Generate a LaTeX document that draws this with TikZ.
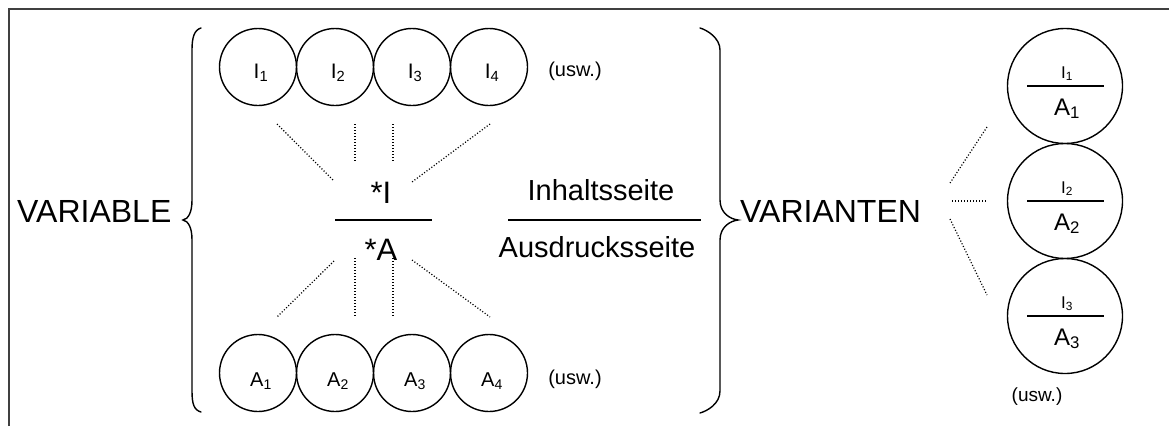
\documentclass[tikz,border=0pt]{standalone}
\usepackage{fontspec}
\setmainfont{Liberation Sans}
\newcommand\fsz[1]{\fontsize{#1}{#1}\selectfont}
\tikzset{
  ring/.style={circle, draw, line width=1.4pt, minimum size=#1, inner sep=0pt},
  dots/.style={line width=1.2pt, dash pattern=on 1.1pt off 1.9pt},
  lbl/.style={inner sep=0pt, anchor=base},
  brace/.style={line width=1.4pt, line cap=round},
}
\begin{document}
\begin{tikzpicture}[x=1pt, y=-1pt]
\useasboundingbox (0,0) rectangle (1169,426);
% frame
\draw[line width=2pt, black!75] (9,426) -- (9,9) -- (1169,9);

% left column labels
\node[lbl, anchor=base west, font=\fsz{32}] (var) at (17,222) {VARIABLE};

% left brace
\draw[brace] (201,28) .. controls (194,30) and (192,38) .. (192,50) -- (192,200)
  .. controls (192,213) and (188,219) .. (183,220)
  .. controls (188,221) and (192,227) .. (192,240) -- (192,391)
  .. controls (192,404) and (194,410) .. (201,412);

% content circles
\foreach \i/\x in {1/258,2/335,3/412,4/489}{
  \node[ring=77] (c\i) at (\x,67) {};
  \node[lbl, font=\fsz{21}] (ct\i) at (\x+3,78) {I\textsubscript{\i}};
  \node[ring=77] (e\i) at (\x,373) {};
  \node[lbl, font=\fsz{20}] (et\i) at (\x+3,386) {A\textsubscript{\i}};
}
\node[lbl, font=\fsz{20}] (uc) at (575,76) {(usw.)};
\node[lbl, font=\fsz{20}] (ue) at (575,384) {(usw.)};

% sign *I / *A
\node[lbl, font=\fsz{31}] (si) at (381,203) {*I};
\node[lbl, font=\fsz{31}] (sa) at (381,260) {*A};
\draw[line width=1.4pt] (335,220) -- (432,220);

% dotted rays
\draw[dots] (277,124) -- (334,181);
\draw[dots] (355,124) -- (355,162);
\draw[dots] (393,124) -- (393,162);
\draw[dots] (490,124) -- (412,182);
\draw[dots] (334,261) -- (277,317);
\draw[dots] (355,258) -- (355,317);
\draw[dots] (393,258) -- (393,317);
\draw[dots] (412,260) -- (490,317);

% content / expression labels
\node[lbl, font=\fsz{29}] (ins) at (601,200) {Inhaltsseite};
\node[lbl, font=\fsz{29}] (aus) at (597,257) {Ausdrucksseite};
\draw[line width=1.4pt] (508,220) -- (701,220);

% right brace
\draw[brace] (700,28) .. controls (707,30) and (720,38) .. (720,50) -- (720,200)
  .. controls (720,213) and (730,219) .. (738,220)
  .. controls (730,221) and (720,227) .. (720,240) -- (720,391)
  .. controls (720,404) and (707,411) .. (700,413);

\node[lbl, anchor=base west, font=\fsz{32}] (vnt) at (740,222) {VARIANTEN};

% dotted rays to the variants
\draw[dots] (950,183) -- (987,127);
\draw[dots] (952,201) -- (987,201);
\draw[dots] (950,219) -- (987,295);

% variant circles
\foreach \i/\y in {1/86,2/201,3/316}{
  \node[ring=115] (v\i) at (1065,\y) {};
  \draw[line width=1.4pt] (1027,\y) -- (1104,\y);
  \node[lbl, font=\fsz{17}] (vi\i) at (1067,\y-8) {I\textsubscript{\i}};
  \node[lbl, font=\fsz{24}] (va\i) at (1067,\y+29) {A\textsubscript{\i}};
}
\node[lbl, font=\fsz{19}] (uv) at (1037,401) {(usw.)};
\end{tikzpicture}
\end{document}
